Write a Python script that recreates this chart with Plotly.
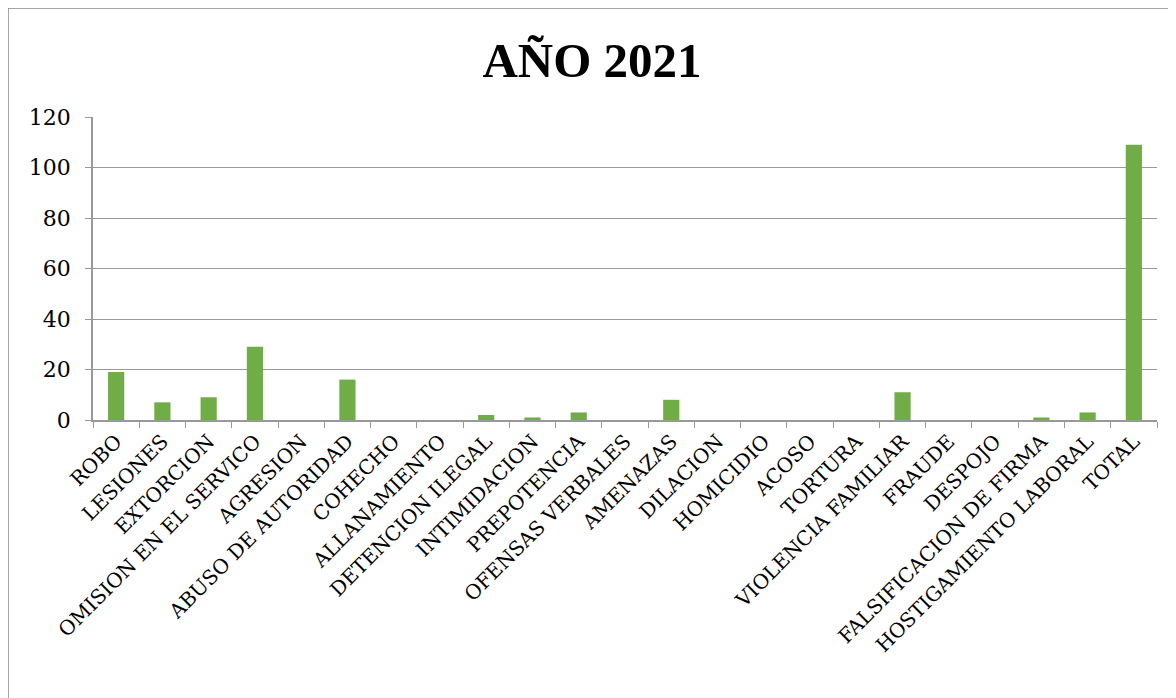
import plotly.graph_objects as go

categories = ["ROBO", "LESIONES", "EXTORCION", "OMISION EN EL SERVICO", "AGRESION",
              "ABUSO DE AUTORIDAD", "COHECHO", "ALLANAMIENTO", "DETENCION ILEGAL",
              "INTIMIDACION", "PREPOTENCIA", "OFENSAS VERBALES", "AMENAZAS", "DILACION",
              "HOMICIDIO", "ACOSO", "TORTURA", "VIOLENCIA FAMILIAR", "FRAUDE", "DESPOJO",
              "FALSIFICACION DE FIRMA", "HOSTIGAMIENTO LABORAL", "TOTAL"]
values = [19, 7, 9, 29, 0, 16, 0, 0, 2, 1, 3, 0, 8, 0, 0, 0, 0, 11, 0, 0, 1, 3, 109]
y_ticks = [0, 20, 40, 60, 80, 100, 120]

FONT = "DejaVu Serif"

fig = go.Figure(go.Bar(
    x=categories, y=values,
    marker=dict(color="#70AD47", line=dict(width=0)),
))

fig.update_layout(
    width=1168, height=690,
    paper_bgcolor="white", plot_bgcolor="white",
    margin=dict(l=85, r=19, t=109, b=278, autoexpand=False),
    bargap=0.65,
    showlegend=False,
    title=dict(text="<b>AÑO 2021</b>", x=0.5, xref="container", xanchor="center",
               y=0.925, yref="container", yanchor="middle",
               font=dict(family="Liberation Serif", size=49, color="black")),
    font=dict(family=FONT, color="black"),
    shapes=[dict(type="rect", xref="paper", yref="paper",
                 x0=-85/1064, x1=1.05, y0=-1.2, y1=1 + 109/303,
                 line=dict(color="#888888", width=1.5), layer="below")],
)

fig.update_xaxes(
    type="category", tickangle=-45, tickson="boundaries",
    ticks="outside", ticklen=6, tickcolor="#999999",
    showline=True, linecolor="#999999", linewidth=1.5,
    showgrid=False,
    tickfont=dict(family=FONT, size=20, color="black"),
)
fig.update_yaxes(
    range=[0, 120], tickvals=y_ticks,
    ticks="outside", ticklen=6, tickcolor="#999999",
    showline=True, linecolor="#999999", linewidth=1.5,
    showgrid=True, gridcolor="#999999", gridwidth=1.2,
    zeroline=False, ticklabelstandoff=10,
    tickfont=dict(family=FONT, size=22, color="black"),
)

fig.write_html("out.html")
